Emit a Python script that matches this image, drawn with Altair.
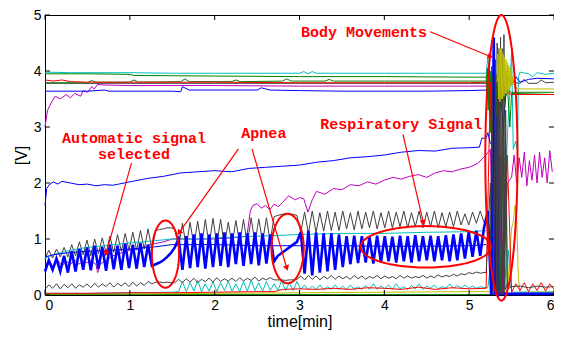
import math
import numpy as np
import pandas as pd
import altair as alt

# ---------------- data ----------------
DT = 0.045  # half-breath sampling step (min) of the oscillating traces

# upper cluster (slow lines)
CYAN_TOP_T = [0, 0.3, 0.6, 1.0, 1.5, 2.0, 2.5, 3.0, 3.05, 3.1, 3.15, 3.2, 3.5, 4.0, 4.5, 5.0, 5.2, 5.22, 5.25, 5.3, 5.35, 5.4, 5.45, 5.5, 5.52, 5.55, 5.57, 5.58, 5.6, 5.7, 5.75, 5.8, 5.9, 6.0]
CYAN_TOP_V = [3.98, 3.97, 3.97, 3.97, 3.96, 3.96, 3.96, 3.96, 3.99, 3.95, 3.99, 3.96, 3.96, 3.96, 3.96, 3.96, 3.96, 4.25, 3.8, 3.2, 2.0, 0.6, 2.8, 4.35, 2.6, 2.75, 2.55, 3.9, 3.98, 3.95, 3.9, 3.97, 3.94, 3.96]

GREEN1_T = [0, 0.5, 1.0, 1.05, 2, 3, 4, 5, 5.2, 5.23, 5.26, 5.3, 5.33, 5.36, 5.4, 5.44, 5.48, 5.5, 6]
GREEN1_V = [3.95, 3.95, 3.94, 3.92, 3.91, 3.9, 3.9, 3.89, 3.89, 4.1, 2.9, 4.2, 2.6, 4.3, 2.8, 4.0, 3.0, 3.6, 3.58]

GREEN2_T = [0, 0.5, 0.55, 0.6, 1.0, 1.05, 1.1, 1.6, 1.65, 1.7, 2.2, 2.25, 2.3, 2.8, 2.85, 2.9, 3.3, 3.35, 3.4, 4.0, 4.5, 5.0, 5.2, 5.5, 6]
GREEN2_V = [3.79, 3.79, 3.83, 3.8, 3.8, 3.84, 3.8, 3.81, 3.86, 3.81, 3.81, 3.84, 3.81, 3.82, 3.86, 3.82, 3.82, 3.85, 3.82, 3.82, 3.82, 3.82, 3.82, 3.62, 3.62]

RED_TOP_T = [0, 0.1, 0.2, 0.3, 0.5, 1, 2, 3, 4, 5, 5.2, 5.5, 6]
RED_TOP_V = [3.84, 3.82, 3.84, 3.81, 3.8, 3.8, 3.8, 3.79, 3.79, 3.79, 3.8, 3.58, 3.58]

GRAY_TOP_T = [0, 1, 2, 3, 4, 5, 5.2, 5.5, 5.6, 5.65, 5.7, 5.8, 5.85, 5.9, 6]
GRAY_TOP_V = [3.78, 3.78, 3.78, 3.78, 3.78, 3.78, 3.78, 3.8, 3.78, 3.85, 3.78, 3.78, 3.84, 3.79, 3.8]

MAG_TOP_T = [0, 0.03, 0.08, 0.12, 0.18, 0.25, 0.3, 0.35, 0.42, 0.45, 0.5, 0.55, 0.58, 0.62, 0.7, 1, 2, 3, 4, 5, 5.2]
MAG_TOP_V = [3.0, 3.3, 3.45, 3.55, 3.5, 3.58, 3.52, 3.6, 3.55, 3.65, 3.62, 3.72, 3.68, 3.76, 3.75, 3.74, 3.74, 3.73, 3.73, 3.73, 3.73]

BLUE_TOP_T = [0, 0.5, 0.7, 0.75, 0.8, 1, 1.5, 1.6, 1.62, 1.7, 2.5, 2.55, 2.6, 2.65, 3, 3.5, 4, 4.5, 5, 5.2, 5.25, 5.3, 5.35, 5.4, 5.45, 5.5, 5.55, 5.6, 5.7, 5.8, 6]
BLUE_TOP_V = [3.64, 3.64, 3.66, 3.64, 3.64, 3.64, 3.64, 3.63, 3.72, 3.66, 3.66, 3.7, 3.68, 3.66, 3.65, 3.64, 3.64, 3.64, 3.65, 3.66, 3.3, 2.2, 4.4, 3.0, 3.9, 3.75, 3.9, 3.8, 3.85, 3.87, 3.86]

# body-movement bursts (dense)
YELLOW_BURST_START = 5.33
YELLOW_BURST_STEP = 0.008
YELLOW_BURST_V = [3.8, 4.3, 3.5, 4.4, 3.45, 4.4, 3.5, 4.35, 3.5, 4.3, 3.55, 4.25, 3.6, 4.2, 3.6, 4.15, 3.65, 4.1, 3.7, 4.05, 3.72, 4.0, 3.75, 3.9, 3.8]
YELLOW_AFTER_T = [5.54, 5.6, 6.0]
YELLOW_AFTER_V = [3.7, 3.68, 3.68]

GREEN_BURST_START = 5.2
GREEN_BURST_STEP = 0.008
GREEN_BURST_V = [3.9, 3.5, 4.05, 3.3, 4.1, 3.2, 4.0, 2.9, 4.08, 3.0, 3.95, 2.8, 4.0, 2.9, 3.9, 3.0, 3.95, 3.1, 3.85, 3.2, 3.9, 3.3, 3.8, 3.4, 3.75, 3.5, 3.6, 3.45, 3.6, 3.55, 3.6, 3.6]

# lower traces
BLUE2_T = [0, 0.02, 0.05, 0.1, 0.15, 0.2, 0.3, 0.4, 0.5, 0.6, 0.7, 0.8, 1.0, 1.2, 1.4, 1.6, 1.8, 2.0, 2.2, 2.4, 2.6, 2.8, 3.0, 3.2, 3.4, 3.6, 3.8, 4.0, 4.2, 4.4, 4.6, 4.8, 5.0, 5.12, 5.15, 5.2, 5.22, 5.25]
BLUE2_V = [1.6, 1.9, 1.97, 2.02, 1.98, 2.03, 2.0, 1.97, 1.98, 1.95, 1.97, 1.96, 2.02, 2.08, 2.12, 2.18, 2.2, 2.22, 2.2, 2.26, 2.28, 2.3, 2.32, 2.37, 2.4, 2.45, 2.47, 2.5, 2.55, 2.58, 2.57, 2.62, 2.63, 2.64, 2.8, 2.8, 2.9, 2.7]

MAG2_T = [0, 0.05, 0.1, 0.15, 0.2, 0.25, 0.3, 0.35, 0.4, 0.45, 0.5, 0.55, 0.6, 0.62, 0.65, 0.7, 0.8, 0.9, 1.0, 1.1,
          1.2, 1.3, 1.4, 1.5, 1.6, 1.8, 2.0, 2.2, 2.38, 2.42, 2.45, 2.5, 2.55, 2.6, 2.65, 2.7, 2.75, 2.8, 2.87, 2.95,
          3.0, 3.05, 3.1, 3.15, 3.2, 3.3, 3.4, 3.5, 3.6, 3.7, 3.8, 3.9, 4.0, 4.1, 4.2, 4.3, 4.4, 4.5, 4.6, 4.7,
          4.8, 4.9, 5.0, 5.1, 5.2, 5.25, 5.28, 5.33, 5.4, 5.45, 5.5, 5.53, 5.56, 5.59, 5.62, 5.65, 5.68, 5.71, 5.74,
          5.77, 5.8, 5.83, 5.86, 5.89, 5.92, 5.95, 5.98]
MAG2_V = [0.55, 0.6, 0.5, 0.62, 0.52, 0.6, 0.55, 0.62, 0.55, 0.6, 0.58, 0.6, 0.55, 0.4, 0.55, 0.6, 0.7, 0.75, 0.8, 0.82,
          0.88, 0.92, 0.95, 1.0, 1.0, 1.0, 1.0, 1.02, 1.05, 1.5, 1.6, 1.63, 1.55, 1.6, 1.52, 1.62, 1.58, 1.65, 1.77, 1.7,
          1.74, 1.72, 1.48, 1.7, 1.85, 1.8, 1.9, 1.88, 1.97, 1.95, 2.02, 1.98, 2.05, 2.1, 2.07, 2.12, 2.15, 2.1, 2.18, 2.22,
          2.2, 2.25, 2.28, 2.35, 2.5, 2.6, 1.0, 2.5, 0.0, 2.0, 2.1, 2.5, 2.0, 2.45, 2.1, 2.55, 1.95, 2.4, 2.05,
          2.5, 2.0, 2.55, 2.1, 2.45, 2.0, 2.58, 2.2]

CYAN_SMOOTH_T = [0, 0.1, 0.3, 0.5, 0.7, 1.0, 1.3, 1.5, 1.8, 2.0, 2.5, 3.0, 3.5, 4.0, 4.5, 5.0, 5.2]
CYAN_SMOOTH_V = [0.65, 0.72, 0.8, 0.85, 0.88, 0.93, 0.97, 1.0, 1.0, 1.02, 1.05, 1.08, 1.1, 1.1, 1.12, 1.13, 1.15]

BLUE_THIN_T = [0, 0.1, 0.3, 0.5, 0.8, 1.0, 1.3, 1.5, 2.0, 2.5, 3.0, 3.5, 4.0, 4.5, 5.0, 5.2]
BLUE_THIN_V = [0.68, 0.72, 0.76, 0.78, 0.8, 0.82, 0.86, 0.9, 0.9, 0.88, 0.88, 0.88, 0.87, 0.87, 0.88, 0.9]

# oscillating traces, one value every DT minutes from t = 0
BLUE_RESP_V = ([0.42, 0.62, 0.45, 0.65, 0.42, 0.70, 0.40] +
               [0.78, 0.42, 0.82, 0.45, 0.85, 0.44, 0.88, 0.47, 0.86, 0.43, 0.90, 0.46, 0.88, 0.45, 0.92, 0.48, 0.90, 0.47, 0.93, 0.50, 0.90, 0.52] +
               [0.55, 0.58, 0.62, 0.68, 0.75, 0.85] +
               [1.00, 0.45, 1.05, 0.48, 1.08, 0.50, 1.10, 0.47, 1.08, 0.50, 1.10, 0.52, 1.12, 0.50, 1.10, 0.55, 1.12, 0.52, 1.10, 0.55, 1.12, 0.53, 1.10, 0.56, 1.08, 0.60] +
               [0.70, 0.75, 0.80, 0.85, 0.90, 0.95] +
               [1.12, 0.38, 1.15, 0.35, 1.12, 0.40, 1.10, 0.42, 1.10, 0.45, 1.08, 0.50] +
               [1.05, 0.55, 1.06, 0.57, 1.05, 0.58, 1.04, 0.56, 1.06, 0.58, 1.05, 0.60, 1.04, 0.58, 1.06, 0.60, 1.05, 0.58, 1.07, 0.60, 1.05, 0.62, 1.06, 0.60, 1.05, 0.62, 1.07, 0.60, 1.08, 0.62, 1.10, 0.65, 1.12, 0.68, 1.15, 0.70, 1.20])
BLUE_RESP_END_T = [5.22, 5.26, 5.29, 5.31, 5.33, 5.35, 5.37, 5.5, 6.0]
BLUE_RESP_END_V = [1.5, 0.0, 4.6, 0.0, 3.2, 0.0, 0.02, 0.02, 0.02]

BLACK_OSC_V = ([0.65, 0.80, 0.66, 0.82, 0.68, 0.85, 0.68, 0.90, 0.70, 0.95, 0.72, 0.98, 0.70, 1.00, 0.74, 1.02, 0.75, 1.05, 0.76, 1.08, 0.78, 1.10, 0.80, 1.12, 0.80, 1.15, 0.82, 1.18, 0.82] +
               [1.15, 1.17, 1.18, 1.20, 1.20, 1.18] +
               [0.85, 1.28, 0.86, 1.30, 0.88, 1.32, 0.86, 1.35, 0.88, 1.37, 0.90, 1.35, 0.88, 1.30, 0.90, 1.33, 0.92, 1.35, 0.90, 1.38, 0.92, 1.36, 0.95, 1.38, 0.95, 1.40] +
               [1.42, 1.44, 1.45, 1.45, 1.44, 1.42] +
               [1.12, 1.48, 1.10, 1.50, 1.12, 1.47, 1.14, 1.50, 1.15, 1.48, 1.15, 1.50, 1.18, 1.47, 1.16, 1.50, 1.18, 1.48, 1.20, 1.50,
                1.18, 1.47, 1.20, 1.50, 1.20, 1.48, 1.22, 1.50, 1.20, 1.47, 1.22, 1.50, 1.20, 1.48, 1.22, 1.50, 1.20, 1.47, 1.22, 1.48,
                1.22, 1.50, 1.25, 1.45, 1.25, 1.48, 1.28, 1.50, 1.30])
BLACK_BURST_T = [5.2, 5.22, 5.25, 5.27, 5.29, 5.31, 5.32, 5.33, 5.34, 5.35, 5.36, 5.37, 5.38, 5.39, 5.40, 5.41, 5.42, 5.43, 5.45, 5.5]
BLACK_BURST_V = [1.3, 1.4, 0.5, 3.9, 0.2, 4.2, 0.0, 4.5, 0.0, 4.3, 0.0, 4.6, 0.0, 4.4, 0.0, 4.65, 0.1, 3.3, 0.1, 0.15]

GRAY_LOW_V = ([0.10, 0.18, 0.12, 0.20, 0.11, 0.19, 0.13, 0.20, 0.12, 0.18, 0.14, 0.20, 0.13, 0.21, 0.14, 0.20, 0.15, 0.22, 0.14, 0.21, 0.16, 0.22, 0.15, 0.23, 0.16, 0.22, 0.17, 0.24, 0.20] +
              [0.23, 0.23, 0.22, 0.23, 0.22, 0.22] +
              [0.28, 0.22, 0.29, 0.23, 0.30, 0.22, 0.28, 0.24, 0.30, 0.23, 0.31, 0.24, 0.29, 0.25, 0.30, 0.24, 0.31, 0.25, 0.30, 0.26, 0.32, 0.25, 0.30, 0.27, 0.31, 0.27] +
              [0.27, 0.27, 0.26, 0.27, 0.27, 0.28] +
              [0.34, 0.27, 0.35, 0.28, 0.34, 0.27, 0.33, 0.29, 0.35, 0.28, 0.34, 0.29, 0.33, 0.28, 0.35, 0.29, 0.34, 0.28, 0.33, 0.30,
               0.35, 0.29, 0.34, 0.30, 0.33, 0.29, 0.35, 0.30, 0.34, 0.30, 0.33, 0.31, 0.35, 0.30, 0.34, 0.31, 0.36, 0.32, 0.35, 0.33,
               0.37, 0.34, 0.38, 0.36, 0.40, 0.38, 0.41, 0.39, 0.40])
GRAY_LOW_END_T = [5.2, 5.25, 5.28, 5.3, 5.33, 5.36, 5.4, 5.45, 5.5, 5.6, 5.7, 5.8, 5.9, 6.0]
GRAY_LOW_END_V = [0.4, 2.0, 0.0, 3.0, 0.0, 2.5, 0.0, 0.2, 0.15, 0.16, 0.13, 0.16, 0.14, 0.15]

CYAN_LOW_START = 1.575
CYAN_LOW_V = [0.06, 0.24, 0.06, 0.22, 0.07, 0.26, 0.06, 0.20, 0.07, 0.24, 0.06, 0.22, 0.08, 0.25, 0.07, 0.20, 0.06, 0.24, 0.07, 0.26,
              0.08, 0.22, 0.07, 0.24, 0.08, 0.20, 0.08, 0.26, 0.08, 0.22, 0.08, 0.24, 0.10, 0.18, 0.09, 0.16, 0.10, 0.18, 0.09, 0.15,
              0.10, 0.18, 0.10, 0.16, 0.09, 0.18, 0.10, 0.15, 0.10, 0.17, 0.10, 0.20, 0.10, 0.16, 0.11, 0.18, 0.10, 0.20, 0.11, 0.15,
              0.10, 0.17, 0.11, 0.20, 0.10, 0.16, 0.12, 0.18, 0.11, 0.15, 0.12, 0.20, 0.12, 0.17, 0.12, 0.18, 0.12, 0.16, 0.12, 0.15, 0.13]
CYAN_LOW_PRE_T = [0, 0.5, 1.0, 1.5]
CYAN_LOW_PRE_V = [0.03, 0.03, 0.04, 0.05]
CYAN_LOW_END_T = [5.22, 5.25, 5.3, 5.38, 5.42, 5.46, 5.5, 6.0]
CYAN_LOW_END_V = [0.13, 0.5, 0.0, 1.0, 0.3, 0.8, 0.05, 0.05]

RED_LOW_T = [0, 0.5, 1, 1.5, 2, 2.5, 2.7, 2.8, 3.0, 3.2, 3.4, 3.6, 3.8, 4.0, 4.2, 4.4, 4.6, 4.8, 5.0, 5.2, 5.25, 5.3, 5.35, 5.4, 5.45, 5.5, 5.55, 5.6, 5.65, 5.7, 5.75, 5.8, 5.85, 5.9, 5.95, 6.0]
RED_LOW_V = [0.03, 0.03, 0.04, 0.04, 0.05, 0.06, 0.06, 0.10, 0.11, 0.10, 0.12, 0.10, 0.13, 0.12, 0.10, 0.14, 0.10, 0.13, 0.11, 0.12, 3.8, 0.0, 3.6, 0.0, 2.5, 0.05, 0.2, 0.08, 0.22, 0.06, 0.2, 0.08, 0.22, 0.07, 0.2, 0.1]

YELLOW_LOW_T = [0, 1, 2, 3, 4, 5, 5.2, 5.45, 5.5, 5.52, 5.54, 5.56, 5.58, 5.6, 5.7, 6]
YELLOW_LOW_V = [0.02, 0.02, 0.03, 0.04, 0.05, 0.06, 0.06, 0.05, 1.2, 1.3, 1.6, 1.4, 0.3, 0.05, 0.05, 0.06]

GREEN_LOW_T = [0, 5.25, 5.27, 5.29, 5.31, 5.33, 5.35, 5.37, 5.39, 5.41, 5.43, 5.45, 6]
GREEN_LOW_V = [0.01, 0.01, 3.0, 0.0, 3.5, 0.0, 2.8, 0.0, 3.2, 0.0, 2.6, 0.01, 0.01]

# annotations
LABELS = ["Body Movements", "Automatic signal", "selected", "Apnea", "Respiratory Signal"]
LABEL_X = [3.76, 1.05, 1.05, 2.58, 4.2]
LABEL_Y = [4.70, 2.81, 2.51, 2.89, 3.05]

ARROW_X1 = [4.54, 1.02, 2.28, 2.44, 4.22]
ARROW_Y1 = [4.70, 2.36, 2.61, 2.61, 2.87]
ARROW_X2 = [5.25, 0.72, 1.58, 2.85, 4.46]
ARROW_Y2 = [4.26, 0.74, 1.11, 0.48, 1.29]

ELL_CX = [1.42, 2.86, 4.49, 5.38]
ELL_CY = [0.73, 0.83, 0.86, 2.45]
ELL_RX = [0.16, 0.19, 0.77, 0.19]
ELL_RY = [0.60, 0.62, 0.37, 2.55]

XTICKS = [0, 1, 2, 3, 4, 5, 6]
YTICKS = [0, 1, 2, 3, 4, 5]

# ---------------- colours ----------------
BLUE = "#0000ff"
GREEN = "#008000"
RED = "#ff0000"
CYAN = "#00bfbf"
MAGENTA = "#bf00bf"
YELLOW = "#bfbf00"
DGRAY = "#404040"

W, H = 509, 280
XS = alt.Scale(domain=[0, 6], nice=False, zero=False)
YS = alt.Scale(domain=[0, 5], nice=False, zero=False)
XAX = alt.Axis(values=XTICKS, title="time[min]", format="d")
YAX = alt.Axis(values=YTICKS, title="[V]", format="d")


def line(t, v, color, width=1.0):
    df = pd.DataFrame({"t": t, "v": v, "i": list(range(len(t)))})
    return alt.Chart(df).mark_line(color=color, strokeWidth=width).encode(
        x=alt.X("t:Q", scale=XS, axis=XAX),
        y=alt.Y("v:Q", scale=YS, axis=YAX),
        order="i:Q",
    )


def stepped(values, start, step):
    return [round(start + k * step, 4) for k in range(len(values))]


layers = []
# upper cluster
layers.append(line(CYAN_TOP_T, CYAN_TOP_V, CYAN))
layers.append(line(GREEN1_T, GREEN1_V, GREEN))
layers.append(line(GRAY_TOP_T, GRAY_TOP_V, DGRAY))
layers.append(line(GREEN2_T, GREEN2_V, GREEN))
layers.append(line(RED_TOP_T, RED_TOP_V, RED))
layers.append(line(MAG_TOP_T, MAG_TOP_V, MAGENTA))
layers.append(line(BLUE_TOP_T, BLUE_TOP_V, BLUE))
layers.append(line(stepped(GREEN_BURST_V, GREEN_BURST_START, GREEN_BURST_STEP), GREEN_BURST_V, GREEN))
# lower traces
layers.append(line(GREEN_LOW_T, GREEN_LOW_V, GREEN))
layers.append(line(YELLOW_LOW_T, YELLOW_LOW_V, YELLOW))
layers.append(line(CYAN_LOW_PRE_T + stepped(CYAN_LOW_V, CYAN_LOW_START, DT) + CYAN_LOW_END_T,
                   CYAN_LOW_PRE_V + CYAN_LOW_V + CYAN_LOW_END_V, CYAN))
layers.append(line(RED_LOW_T, RED_LOW_V, RED))
layers.append(line(stepped(GRAY_LOW_V, 0, DT) + GRAY_LOW_END_T, GRAY_LOW_V + GRAY_LOW_END_V, DGRAY))
layers.append(line(BLUE2_T, BLUE2_V, BLUE))
layers.append(line(MAG2_T, MAG2_V, MAGENTA))
layers.append(line(stepped(BLACK_OSC_V, 0, DT), BLACK_OSC_V, DGRAY))
layers.append(line(CYAN_SMOOTH_T, CYAN_SMOOTH_V, CYAN))
layers.append(line(BLUE_THIN_T, BLUE_THIN_V, BLUE))
layers.append(line(stepped(BLUE_RESP_V, 0, DT) + BLUE_RESP_END_T, BLUE_RESP_V + BLUE_RESP_END_V, BLUE, 2.6))
layers.append(line(BLACK_BURST_T, BLACK_BURST_V, DGRAY, 1.0))
layers.append(line(stepped(YELLOW_BURST_V, YELLOW_BURST_START, YELLOW_BURST_STEP) + YELLOW_AFTER_T,
                   YELLOW_BURST_V + YELLOW_AFTER_V, YELLOW))

# inside tick marks (MATLAB style)
xt = pd.DataFrame({"t": XTICKS})
yt = pd.DataFrame({"v": YTICKS})
layers.append(alt.Chart(xt).mark_rule(color="black", strokeWidth=1).encode(
    x=alt.X("t:Q", scale=XS, axis=XAX), y=alt.value(H), y2=alt.value(H - 5)))
layers.append(alt.Chart(xt).mark_rule(color="black", strokeWidth=1).encode(
    x=alt.X("t:Q", scale=XS, axis=XAX), y=alt.value(0), y2=alt.value(5)))
layers.append(alt.Chart(yt).mark_rule(color="black", strokeWidth=1).encode(
    y=alt.Y("v:Q", scale=YS, axis=YAX), x=alt.value(0), x2=alt.value(5)))
layers.append(alt.Chart(yt).mark_rule(color="black", strokeWidth=1).encode(
    y=alt.Y("v:Q", scale=YS, axis=YAX), x=alt.value(W), x2=alt.value(W - 5)))

# ellipses
ell_rows = []
for k in range(len(ELL_CX)):
    for j in range(121):
        a = 2 * math.pi * j / 120
        ell_rows.append({"e": k, "i": j,
                         "t": ELL_CX[k] + ELL_RX[k] * math.cos(a),
                         "v": ELL_CY[k] + ELL_RY[k] * math.sin(a)})
ell_df = pd.DataFrame(ell_rows)
layers.append(alt.Chart(ell_df).mark_line(color=RED, strokeWidth=2).encode(
    x=alt.X("t:Q", scale=XS, axis=XAX), y=alt.Y("v:Q", scale=YS, axis=YAX),
    detail="e:N", order="i:Q"))

# arrows
arr_df = pd.DataFrame({"x1": ARROW_X1, "y1": ARROW_Y1, "x2": ARROW_X2, "y2": ARROW_Y2})
sx, sy = W / 6.0, H / 5.0
arr_df["ang"] = [(math.degrees(math.atan2((b - a) * sx, (d - c) * sy)) + 360) % 360
                 for a, b, c, d in zip(ARROW_X1, ARROW_X2, ARROW_Y1, ARROW_Y2)]
layers.append(alt.Chart(arr_df).mark_rule(color=RED, strokeWidth=1.2).encode(
    x=alt.X("x1:Q", scale=XS, axis=XAX), y=alt.Y("y1:Q", scale=YS, axis=YAX),
    x2="x2:Q", y2="y2:Q"))
layers.append(alt.Chart(arr_df).mark_point(shape="triangle-up", filled=True, color=RED, size=40, opacity=1).encode(
    x=alt.X("x2:Q", scale=XS, axis=XAX), y=alt.Y("y2:Q", scale=YS, axis=YAX),
    angle=alt.Angle("ang:Q", scale=None)))

# labels
lab_df = pd.DataFrame({"label": LABELS, "x": LABEL_X, "y": LABEL_Y})
layers.append(alt.Chart(lab_df).mark_text(font="Liberation Mono", fontWeight="bold", fontSize=15,
                                         color=RED, align="center", baseline="middle").encode(
    x=alt.X("x:Q", scale=XS, axis=XAX), y=alt.Y("y:Q", scale=YS, axis=YAX), text="label:N"))

chart = alt.layer(*layers).properties(
    width=W, height=H,
    autosize=alt.AutoSizeParams(type="none"),
    padding={"left": 37, "top": 7, "right": 0, "bottom": 36},
).configure_view(stroke="black", strokeWidth=1).configure_axis(
    grid=False, ticks=False, domain=False,
    labelFont="Liberation Sans", labelFontSize=14, labelColor="black",
    titleFont="Liberation Sans", titleFontSize=16, titleFontWeight="normal", titleColor="black",
).configure_axisX(labelPadding=3, titlePadding=1).configure_axisY(labelPadding=4, titlePadding=4)

chart.save("out.html", embed_options={"renderer": "svg", "actions": False})
